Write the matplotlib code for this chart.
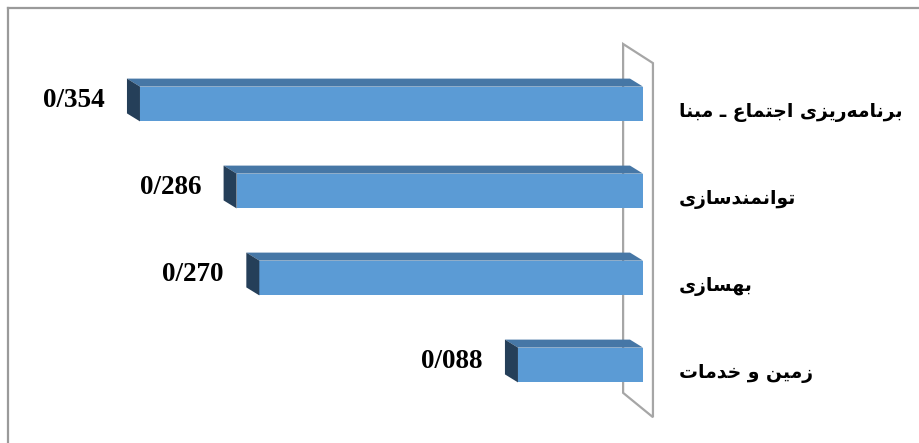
import matplotlib
matplotlib.use("Agg")
import matplotlib.pyplot as plt
from matplotlib.patches import Polygon
from matplotlib.lines import Line2D
import matplotlib.transforms as mtransforms

# ==========================
# DATA
# ==========================

categories = [
    "برنامه\u200cریزی اجتماع ـ مبنا",
    "توانمندسازی",
    "بهسازی",
    "زمین و خدمات",
]

values = [0.354, 0.286, 0.270, 0.088]

value_labels = ["0/354", "0/286", "0/270", "0/088"]

# ==========================
# SIMPLE ARABIC / PERSIAN SHAPING
# (matplotlib has no text shaping)
# ==========================

# isolated, final, initial, medial
FORMS = {
    "ا": ("\uFE8D", "\uFE8E", None, None),
    "ب": ("\uFE8F", "\uFE90", "\uFE91", "\uFE92"),
    "ت": ("\uFE95", "\uFE96", "\uFE97", "\uFE98"),
    "ج": ("\uFE9D", "\uFE9E", "\uFE9F", "\uFEA0"),
    "خ": ("\uFEA5", "\uFEA6", "\uFEA7", "\uFEA8"),
    "د": ("\uFEA9", "\uFEAA", None, None),
    "ر": ("\uFEAD", "\uFEAE", None, None),
    "ز": ("\uFEAF", "\uFEB0", None, None),
    "س": ("\uFEB1", "\uFEB2", "\uFEB3", "\uFEB4"),
    "ع": ("\uFEC9", "\uFECA", "\uFECB", "\uFECC"),
    "م": ("\uFEE1", "\uFEE2", "\uFEE3", "\uFEE4"),
    "ن": ("\uFEE5", "\uFEE6", "\uFEE7", "\uFEE8"),
    "ه": ("\uFEE9", "\uFEEA", "\uFEEB", "\uFEEC"),
    "و": ("\uFEED", "\uFEEE", None, None),
    "ی": ("\uFBFC", "\uFBFD", "\uFBFE", "\uFBFF"),
    "ـ": ("\u0640", "\u0640", "\u0640", "\u0640"),
}


def shape(text):
    out = []
    for i, ch in enumerate(text):
        if ch == "\u200c":
            continue
        if ch not in FORMS:
            out.append(ch)
            continue
        prev = text[i - 1] if i > 0 else ""
        nxt = text[i + 1] if i + 1 < len(text) else ""
        iso, fin, ini, med = FORMS[ch]
        join_prev = prev in FORMS and FORMS[prev][2] is not None
        join_next = ini is not None and nxt in FORMS
        if join_prev and join_next:
            out.append(med)
        elif join_prev:
            out.append(fin)
        elif join_next:
            out.append(ini)
        else:
            out.append(iso)
    return "".join(reversed(out))


# ==========================
# FIGURE
# ==========================

W, H = 920, 443
fig = plt.figure(figsize=(W / 100, H / 100), dpi=100)

px_per_unit = 1421.0
cat_px = 87.0
x_left_val = 0.44
x_right_val = -0.02
ax_left_px = 643 - x_left_val * px_per_unit
ax_width_px = (x_left_val - x_right_val) * px_per_unit
y_top_val = -0.75
y_bot_val = 3.75
ax_top_px = 104 - 0.75 * cat_px
ax_height_px = (y_bot_val - y_top_val) * cat_px

ax = fig.add_axes([
    ax_left_px / W,
    (H - ax_top_px - ax_height_px) / H,
    ax_width_px / W,
    ax_height_px / H,
])
ax.set_xlim(x_left_val, x_right_val)
ax.set_ylim(y_bot_val, y_top_val)
ax.axis("off")

front_color = "#5B9BD5"
top_color = "#4677A6"
side_color = "#253F59"

bar_h = 0.40
dx = 13 / px_per_unit
dy = 8 / cat_px

# wall at zero (drawn first so bars sit over its back edge)
wall = Polygon(
    [(0.014, -0.69), (-0.007, -0.47), (-0.007, 3.60), (0.014, 3.32)],
    closed=True, facecolor="white", edgecolor="#A6A6A6", linewidth=1.6,
    zorder=1
)
ax.add_patch(wall)

ypos = list(range(len(categories)))

ax.barh(ypos, values, height=bar_h, color=front_color, zorder=3)

for y, v in zip(ypos, values):
    top = y - bar_h / 2
    bot = y + bar_h / 2
    ax.add_patch(Polygon(
        [(v, top), (0, top), (dx, top - dy), (v + dx, top - dy)],
        closed=True, facecolor=top_color, edgecolor="none", zorder=3
    ))
    ax.add_patch(Polygon(
        [(v, top), (v, bot), (v + dx, bot - dy), (v + dx, top - dy)],
        closed=True, facecolor=side_color, edgecolor="none", zorder=3
    ))

# value labels
for y, v, lab in zip(ypos, values, value_labels):
    ax.text(
        v + 0.025, y - 0.035, lab,
        ha="right", va="center",
        fontsize=19.5, fontweight="bold", family="Liberation Serif",
        zorder=4
    )

# category labels
trans = mtransforms.blended_transform_factory(fig.transFigure, ax.transData)
for y, cat in zip(ypos, categories):
    ax.text(
        679 / W, y + 0.10, shape(cat),
        transform=trans, ha="left", va="center",
        fontsize=13.5, fontweight="bold", family=["DejaVu Sans"],
        clip_on=False
    )

# chart border (top and left only)
fig.add_artist(Line2D([8 / W, 1], [1 - 8 / H, 1 - 8 / H],
                      color="#9A9A9A", linewidth=1.6))
fig.add_artist(Line2D([8 / W, 8 / W], [0, 1 - 8 / H],
                      color="#9A9A9A", linewidth=1.6))

fig.savefig("out.png", dpi=100)
